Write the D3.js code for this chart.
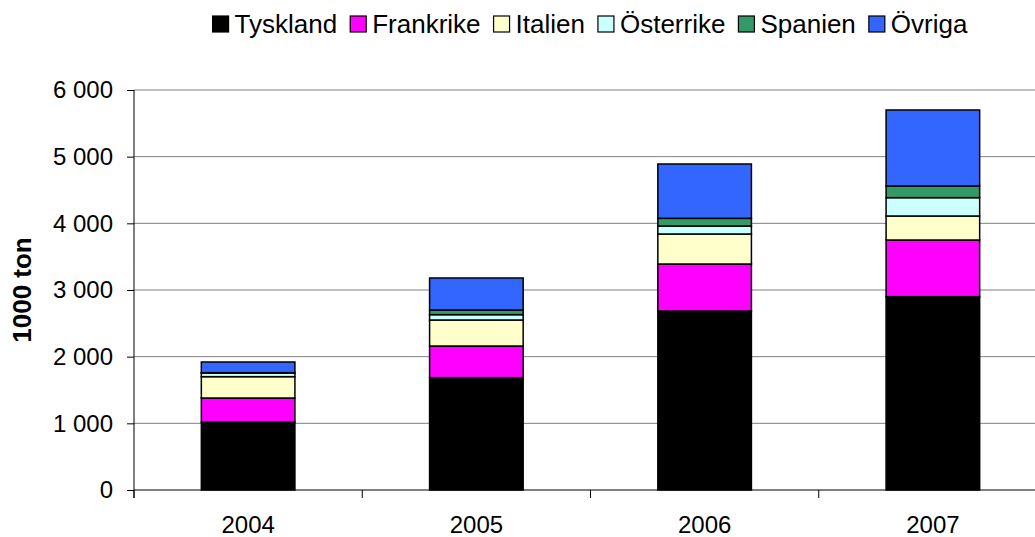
<!DOCTYPE html>
<html>
<head>
<meta charset="utf-8">
<script src="https://cdn.jsdelivr.net/npm/d3@7"></script>
<style>
  body { margin: 0; background: #fff; }
  text { font-family: "Liberation Sans", Arial, sans-serif; }
</style>
</head>
<body>
<svg id="chart" width="1035" height="537"></svg>
<script>
// data (1000 ton)
var years = ["2004", "2005", "2006", "2007"];
var countries = ["Tyskland", "Frankrike", "Italien", "Österrike", "Spanien", "Övriga"];
var colors = ["#000000", "#ff00ff", "#ffffcc", "#ccffff", "#339966", "#3366ff"];
var tyskland  = [1020, 1685, 2685, 2900];
var frankrike = [360, 475, 705, 850];
var italien   = [320, 390, 450, 360];
var osterrike = [55, 80, 120, 275];
var spanien   = [5, 70, 115, 175];
var ovriga    = [160, 480, 815, 1140];
var yTicks = [0, 1000, 2000, 3000, 4000, 5000, 6000];

var series = [tyskland, frankrike, italien, osterrike, spanien, ovriga];
var table = years.map(function(y, i) {
  var row = { year: y };
  countries.forEach(function(c, j) { row[c] = series[j][i]; });
  return row;
});

var svg = d3.select("#chart"),
  MARGINS = { top: 90, left: 134, bottom: 490, right: 1047 };

var x = d3.scaleBand().domain(years)
  .range([MARGINS.left, MARGINS.right])
  .paddingInner(0.59).paddingOuter(0.295);
var y = d3.scaleLinear().domain([0, 6000]).range([MARGINS.bottom, MARGINS.top]);

var fmt = d3.formatLocale({ decimal: ",", thousands: " ", grouping: [3], currency: ["", ""] }).format(",d");

// gridlines
svg.append("g").selectAll("line").data(yTicks.slice(1)).enter().append("line")
  .attr("x1", MARGINS.left).attr("x2", MARGINS.right)
  .attr("y1", function(d) { return y(d); }).attr("y2", function(d) { return y(d); })
  .attr("stroke", "#808080").attr("stroke-width", 1);

// stacked bars
var stack = d3.stack().keys(countries)(table);
svg.append("g").selectAll("g").data(stack).enter().append("g")
  .attr("fill", function(d, i) { return colors[i]; })
  .selectAll("rect").data(function(d) { return d; }).enter().append("rect")
  .attr("x", function(d) { return x(d.data.year); })
  .attr("width", x.bandwidth())
  .attr("y", function(d) { return y(d[1]); })
  .attr("height", function(d) { return y(d[0]) - y(d[1]); })
  .attr("stroke", "#000").attr("stroke-width", 1.5);

// y axis
var yAxis = d3.axisLeft(y).tickValues(yTicks).tickFormat(fmt).tickSize(7).tickPadding(14);
var gy = svg.append("g").attr("transform", "translate(" + MARGINS.left + ",0)").call(yAxis);
gy.select(".domain").attr("stroke", "#000").attr("d", "M0," + MARGINS.top + "V" + (MARGINS.bottom + 8));
gy.selectAll(".tick line").attr("stroke", "#000");
gy.selectAll("text").attr("font-size", "24px").attr("fill", "#000")
  .style("font-family", '"Liberation Sans", Arial, sans-serif');

// x axis
var xAxis = d3.axisBottom(x).tickSize(0).tickPadding(26);
var gx = svg.append("g").attr("transform", "translate(0," + MARGINS.bottom + ")").call(xAxis);
gx.select(".domain").attr("stroke", "#000").attr("d", "M" + MARGINS.left + ",0H" + MARGINS.right);
gx.selectAll("text").attr("font-size", "24px").attr("fill", "#000")
  .style("font-family", '"Liberation Sans", Arial, sans-serif');
var step = x.step();
gx.append("g").selectAll("line").data(d3.range(years.length + 1)).enter().append("line")
  .attr("x1", function(i) { return MARGINS.left + i * step; })
  .attr("x2", function(i) { return MARGINS.left + i * step; })
  .attr("y1", 0).attr("y2", 8).attr("stroke", "#000");

// y title
svg.append("text")
  .attr("transform", "translate(31,290) rotate(-90)")
  .attr("text-anchor", "middle")
  .attr("font-size", "26px").attr("font-weight", "bold")
  .text("1000 ton");

// legend
var legend = svg.append("g");
var lx = 0;
countries.forEach(function(c, i) {
  var g = legend.append("g").attr("transform", "translate(" + lx + ",0)");
  g.append("rect").attr("x", 0).attr("y", -17).attr("width", 16).attr("height", 16)
    .attr("fill", colors[i]).attr("stroke", "#000").attr("stroke-width", 1.2);
  var t = g.append("text").attr("x", 22).attr("y", 0).attr("font-size", "26px").text(c);
  lx += 22 + t.node().getComputedTextLength() + 13;
});
var lw = lx - 13;
legend.attr("transform", "translate(" + (590 - lw / 2) + ",33)");
</script>
</body>
</html>
